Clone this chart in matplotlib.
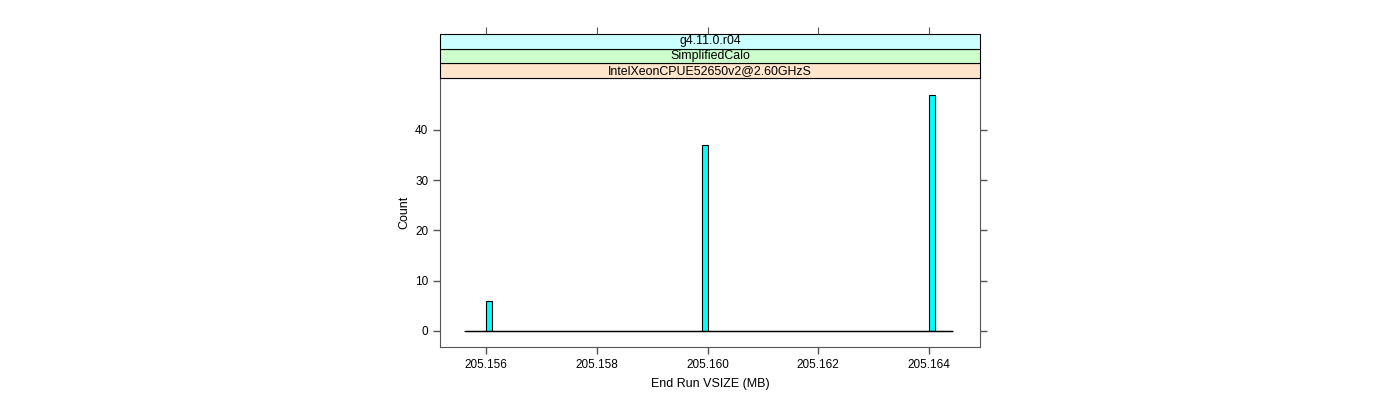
import matplotlib
matplotlib.use('Agg')
import matplotlib.pyplot as plt
import numpy as np

plt.rcParams['font.family'] = ['Liberation Sans', 'DejaVu Sans']

# data
vsize = [205.15604, 205.15999, 205.16406]
counts = [6, 37, 47]
bin_lo, bin_hi, nbins = 205.1556, 205.1644, 88
xticks = [205.156, 205.158, 205.160, 205.162, 205.164]
yticks = [0, 10, 20, 30, 40]
strips = ['IntelXeonCPUE52650v2@2.60GHzS', 'SimplifiedCalo', 'g4.11.0.r04']
strip_colors = ['#ffe5cc', '#ccffcc', '#ccffff']

frame = '#555555'
x0, x1 = 205.15517, 205.16492

fig = plt.figure(figsize=(14, 4), dpi=100)
ax = fig.add_axes([440 / 1400, 53 / 400, 540 / 1400, 269 / 400])

bins = np.linspace(bin_lo, bin_hi, nbins + 1)
ax.hist(vsize, bins=bins, weights=counts, color='#00ffff',
        edgecolor='black', linewidth=0.8)
ax.hlines(0, bin_lo + 0.00003, bin_hi + 0.00003, color='black', linewidth=1)

ax.set_xlim(x0, x1)
ax.set_ylim(-3.2, 50.3)
ax.set_xticks(xticks)
ax.set_xticklabels(['%.3f' % t for t in xticks])
ax.set_yticks(yticks)
ax.tick_params(direction='out', length=5, width=1, colors=frame,
               labelcolor='black', labelsize=8.5, right=True)
for s in ax.spines.values():
    s.set_color(frame)
ax.set_xlabel('End Run VSIZE (MB)', fontsize=9, labelpad=5)
ax.set_ylabel('Count', fontsize=9, labelpad=3)

# strips
sax = fig.add_axes([440 / 1400, 322 / 400, 540 / 1400, 44 / 400])
sax.set_xlim(x0, x1)
sax.set_ylim(0, 3)
for i, (lab, col) in enumerate(zip(strips, strip_colors)):
    sax.add_patch(plt.Rectangle((x0, i), x1 - x0, 1, facecolor=col,
                                edgecolor='black', linewidth=0.8, clip_on=False))
    sax.text(0.5 * (x0 + x1), i + 0.5, lab, ha='center', va='center',
             fontsize=8.9)
sax.set_xticks(xticks)
sax.set_yticks([])
sax.tick_params(axis='x', direction='out', length=5, colors=frame,
                top=True, bottom=False, labeltop=False, labelbottom=False)
for s in sax.spines.values():
    s.set_visible(False)

plt.savefig('out.png')
